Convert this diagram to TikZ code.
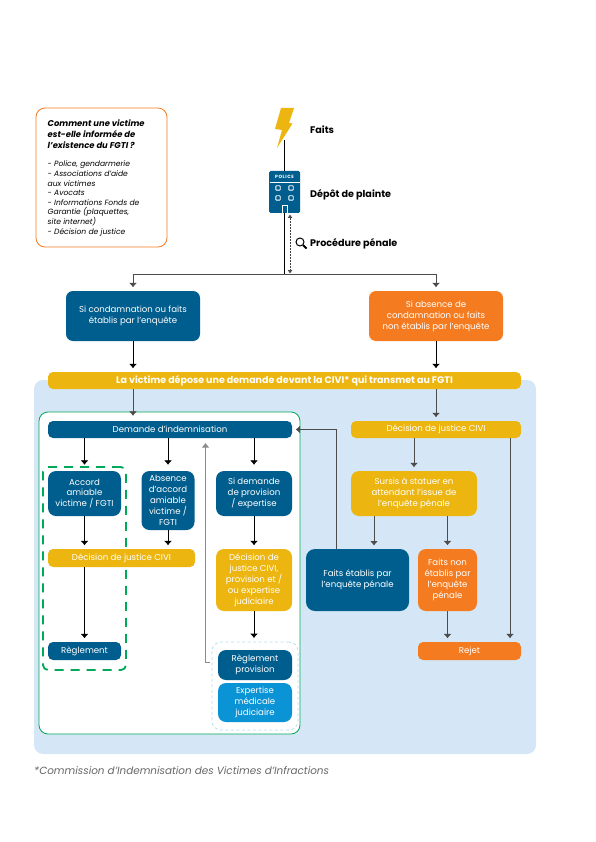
\documentclass[tikz,border=0pt]{standalone}
\usepackage{fontspec}
\setmainfont{Poppins}
\usetikzlibrary{arrows.meta}
\definecolor{civiblue}{HTML}{005E8E}
\definecolor{civisky}{HTML}{0A94D6}
\definecolor{civiorange}{HTML}{F47B20}
\definecolor{civiyellow}{HTML}{ECB50F}
\definecolor{civipale}{HTML}{D5E7F6}
\definecolor{civigreen}{HTML}{00A859}
\begin{document}
\begin{tikzpicture}[x=1pt,y=-1pt]

      \tikzset{
        box/.style={draw=none, inner sep=0pt, align=center, text=white, font=\fontsize{8.6}{10.9}\selectfont},
        bluebox/.style={box, fill=civiblue},
        skybox/.style={box, fill=civisky},
        orangebox/.style={box, fill=civiorange},
        yellowbox/.style={box, fill=civiyellow},
        caption/.style={anchor=west, inner sep=0pt, font=\fontsize{9.6}{11}\selectfont\bfseries},
        link/.style={-{Latex[length=4.5pt,width=8pt]}, line width=.8pt, shorten >=3.5pt},
        graylink/.style={link, draw=black!70},
      }
      \useasboundingbox (0,0) rectangle (595,842);
%% Backgrounds
      	\node[fill=civipale, rounded corners=9pt, minimum width=502pt, minimum height=374pt, inner sep=0pt] (bg) at (285,567) {};
      	\node[draw=civigreen, fill=white, line width=.8pt, rounded corners=9pt, minimum width=261pt, minimum height=322pt, inner sep=0pt] (frame) at (169.5,573) {};
      	\node[draw=civigreen, dashed, dash pattern=on 9pt off 7pt, line width=1.8pt, rounded corners=5pt, minimum width=83pt, minimum height=203pt, inner sep=0pt] (amiable) at (84.5,568.5) {};
      	\node[draw=civisky!30, dashed, dash pattern=on 3pt off 2.5pt, line width=.8pt, rounded corners=9pt, minimum width=86pt, minimum height=88pt, inner sep=0pt] (suite) at (255,686) {};
%% Info box
      	\node[draw=civiorange, fill=white, line width=.8pt, rounded corners=9pt, minimum width=131pt, minimum height=139pt, inner sep=0pt] (info) at (101.5,177.5) {};
      	\node[anchor=north west, inner sep=0pt, align=left, font=\fontsize{8.4}{11}\selectfont\bfseries\itshape] (infotitle) at (47.5,120) {Comment une victime\\ est-elle informée de\\ l’existence du FGTI ?};
      	\node[anchor=north west, inner sep=0pt, align=left, font=\fontsize{7.6}{9.6}\selectfont\itshape] (infotext) at (47.5,161) {- Police, gendarmerie\\ - Associations d’aide\\ aux victimes\\ - Avocats\\ - Informations Fonds de\\ Garantie (plaquettes,\\ site internet)\\ - Décision de justice};
%% Top
      	\coordinate (bolt) at (284.5,140);
      	\fill[civiyellow] (281,108) -- (294,108) -- (289,123) -- (292.5,123.5) -- (277,148) -- (282,130) -- (275,129) -- cycle;
      	\node[fill=civiblue, rounded corners=1.5pt, minimum width=31pt, minimum height=42pt, inner sep=0pt] (police) at (284.5,192) {};
      	\node[text=white, inner sep=0pt, font=\fontsize{4.6}{5}\selectfont\bfseries\addfontfeature{LetterSpace=12}] (policetext) at (284.5,177) {POLICE};
      	\draw[white, line width=.7pt] (269.5,182) -- (299.5,182);
      	\foreach \wx in {278,291} \foreach \wy in {188,198}
      		\draw[white, line width=.9pt, rounded corners=.6pt] (\wx-2.2,\wy-2.2) rectangle (\wx+2.2,\wy+2.2);
      	\node[caption] (faits) at (310,129.5) {Faits};
      	\node[caption] (depot) at (310,195) {Dépôt de plainte};
      	\node[caption] (procedure) at (310,244) {Procédure pénale};
      	\draw[line width=1pt] (300,242) circle (4pt);
      	\draw[line width=1.8pt] (303,245) -- (306.5,248.5);
%% Boxes
      	\node[bluebox, rounded corners=7pt, minimum width=134pt, minimum height=50pt] (condamn) at (133,316) {Si condamnation ou faits\\ établis par l’enquête};
      	\node[orangebox, rounded corners=7pt, minimum width=134pt, minimum height=50pt] (absence) at (436,316) {Si absence de\\ condamnation ou faits\\ non établis par l’enquête};
      	\node[yellowbox, rounded corners=5pt, minimum width=473pt, minimum height=17pt, font=\fontsize{9.5}{11}\selectfont\bfseries] (band) at (284.5,380.5) {La victime dépose une demande devant la CIVI* qui transmet au FGTI};
      	\node[bluebox, rounded corners=5pt, minimum width=244pt, minimum height=17pt] (demande) at (170,429.5) {Demande d’indemnisation};
      	\node[bluebox, rounded corners=8pt, minimum width=73pt, minimum height=45pt] (accord) at (84.5,493.5) {Accord\\ amiable\\ victime / FGTI};
      	\node[bluebox, rounded corners=8pt, minimum width=53pt, minimum height=59pt] (refus) at (168,500.5) {Absence\\ d’accord\\ amiable\\ victime /\\ FGTI};
      	\node[bluebox, rounded corners=8pt, minimum width=76pt, minimum height=45pt] (provision) at (254,493.5) {Si demande\\ de provision\\ / expertise};
      	\node[yellowbox, rounded corners=5pt, minimum width=147pt, minimum height=18pt] (decisiona) at (121.5,558) {Décision de justice CIVI};
      	\node[yellowbox, rounded corners=8pt, minimum width=76pt, minimum height=62pt] (decisionb) at (254,580) {Décision de\\ justice CIVI,\\ provision et /\\ ou expertise\\ judiciaire};
      	\node[bluebox, rounded corners=5pt, minimum width=73pt, minimum height=18pt] (reglement) at (84.5,651) {Règlement};
      	\node[bluebox, rounded corners=8pt, minimum width=74pt, minimum height=30pt] (reglementp) at (255,665) {Règlement\\ provision};
      	\node[skybox, rounded corners=8pt, minimum width=74pt, minimum height=39pt] (expertise) at (255,702.5) {Expertise\\ médicale\\ judiciaire};
      	\node[yellowbox, rounded corners=5pt, minimum width=170pt, minimum height=17pt] (decisionc) at (436,429.5) {Décision de justice CIVI};
      	\node[yellowbox, rounded corners=8pt, minimum width=126pt, minimum height=45pt] (sursis) at (414,493.5) {Sursis à statuer en\\ attendant l’issue de\\ l’enquête pénale};
      	\node[bluebox, rounded corners=9pt, minimum width=103pt, minimum height=62pt] (etablis) at (357.5,580) {Faits établis par\\ l’enquête pénale};
      	\node[orangebox, rounded corners=8pt, minimum width=59pt, minimum height=62pt] (nonetablis) at (447.5,580) {Faits non\\ établis par\\ l’enquête\\ pénale};
      	\node[orangebox, rounded corners=5pt, minimum width=103pt, minimum height=18pt] (rejet) at (469.5,651) {Rejet};
      	\node[anchor=west, inner sep=0pt, text=black!60, font=\fontsize{10.4}{12}\selectfont\itshape] (note) at (34,770.5) {*Commission d’Indemnisation des Victimes d’Infractions};
%% Edges
      	\coordinate (fork) at (284.5,274.5);
      	\coordinate (rise) at (205.5,662);
      	\coordinate (riseend) at (205.5,443);
      	\coordinate (turn) at (336.5,429.5);
      	\coordinate (leftx) at (510,429.5);
      	\coordinate (sursisx) at (374,549);
      	\path[line width=.8pt, draw] (bolt) -- (police) -- (fork);
      	\draw[white, fill=civiblue, line width=.8pt] (282,213) -- (282,205) -- (287,205) -- (287,213);
      	\draw[graylink] (fork) -| (condamn.north);
      	\draw[graylink] (fork) -| (absence.north);
      	\draw[{Latex[length=3.5pt,width=5pt]}-{Latex[length=3.5pt,width=5pt]}, densely dotted, line width=.5pt, draw=black!75] (290,214.5) -- (290,273.5);
      	\draw[link, draw=black] (condamn.south) -- (band.north -| condamn);
      	\draw[link, draw=black] (absence.south) -- (band.north -| absence);
      	\draw[graylink, shorten >=5pt] (band.south -| condamn) -- (demande.north -| condamn);
      	\draw[graylink] (band.south -| absence) -- (decisionc.north -| absence);
      	\draw[link, shorten >=6pt] (demande.south -| accord) -- (accord.north);
      	\draw[link, shorten >=6pt] (demande.south -| refus) -- (refus.north);
      	\draw[link, shorten >=6pt] (demande.south -| provision) -- (provision.north);
      	\draw[link] (accord) -- (decisiona.north -| accord);
      	\draw[link] (refus) -- (decisiona.north -| refus);
      	\draw[link] (provision) -- (decisionb);
      	\draw[link] (decisiona.south -| reglement) -- (reglement.north);
      	\draw[link] (decisionb) -- (suite.north -| decisionb);
      	\draw[graylink, shorten >=0pt, draw=black!45, line width=.9pt] ([xshift=4.5pt]rise) -- (rise) -- (riseend);
      	\draw[graylink] (etablis.north -| turn) -- (turn) -- (demande.east);
      	\draw[graylink] (decisionc.south -| sursis) -- (sursis.north);
      	\draw[graylink] (sursis.south -| sursisx) -- (sursisx);
      	\draw[graylink] (sursis.south -| nonetablis) -- (nonetablis.north);
      	\draw[graylink] (nonetablis) -- (rejet.north -| nonetablis);
      	\draw[graylink] (decisionc.south -| leftx) -- (rejet.north -| leftx);

	\end{tikzpicture}
\end{document}
